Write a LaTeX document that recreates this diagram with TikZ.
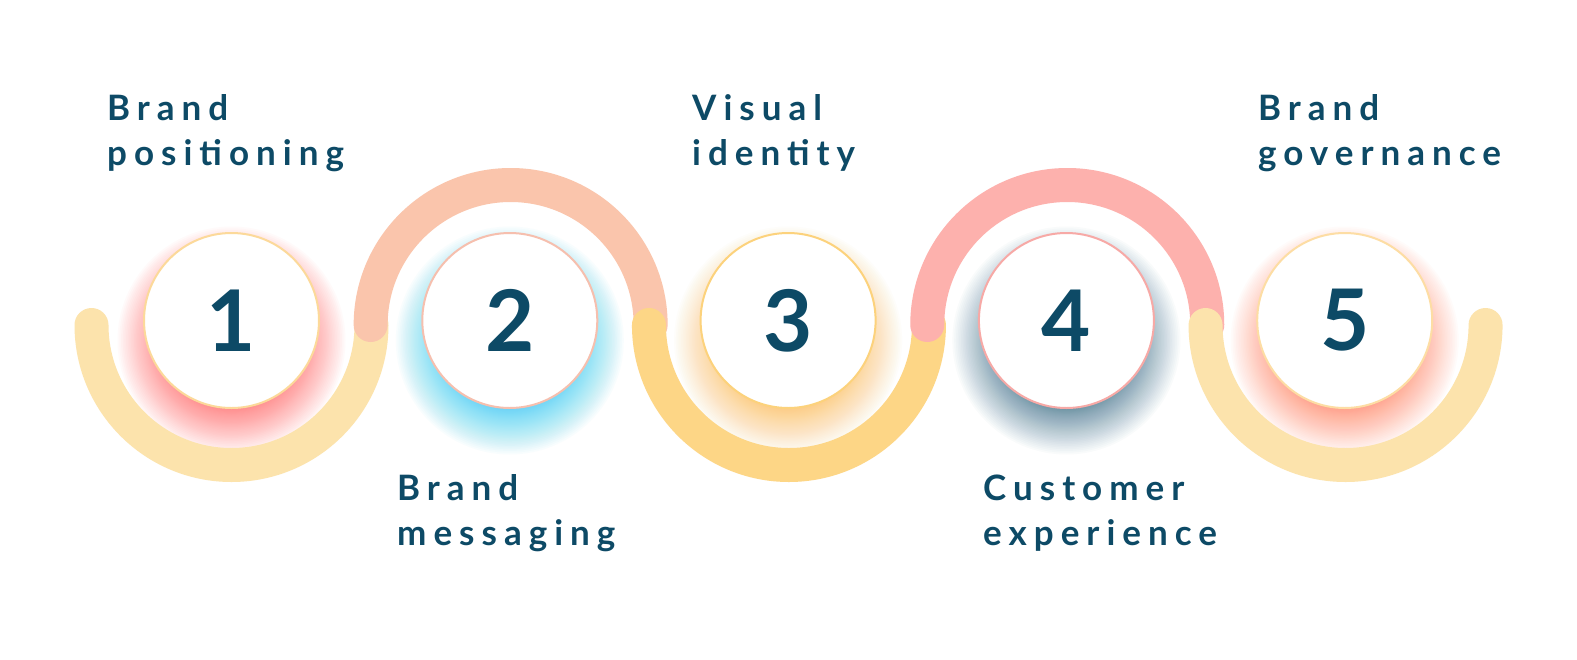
\documentclass[tikz,border=0pt]{standalone}
\usepackage{fontspec}
\setmainfont{Lato}
\newfontfamily\labelfont[LetterSpace=20]{Lato}
\definecolor{ink}{HTML}{0D4A66}
\definecolor{arcLight}{HTML}{FCE3AC}
\definecolor{arcPeach}{HTML}{FAC5AC}
\definecolor{arcYellow}{HTML}{FDD686}
\definecolor{arcPink}{HTML}{FDB1AD}
\definecolor{bordA}{HTML}{FCD99A}
\definecolor{bordB}{HTML}{F6BFAE}
\definecolor{bordC}{HTML}{FCD27C}
\definecolor{bordD}{HTML}{F7A9A6}
\definecolor{bordE}{HTML}{FDDDA4}
\definecolor{glowA}{HTML}{FF6E6E}
\definecolor{glowB}{HTML}{3FD4F6}
\definecolor{glowC}{HTML}{FCBB48}
\definecolor{glowD}{HTML}{245F7C}
\definecolor{glowE}{HTML}{FF8560}
\tikzset{
  arcline/.style={line width=34pt, line cap=round},
  numcircle/.style={circle, fill=white, line width=2pt, minimum size=175pt, inner sep=0pt,
    text=ink, font=\fontsize{85}{85}\selectfont\bfseries},
  steplabel/.style={anchor=north west, inner sep=0pt, align=left, text=ink,
    font=\labelfont\fontsize{35}{45}\selectfont\bfseries},
}
% soft glow: many translucent disks, denser towards the inside
\newcommand{\glowring}[3]{%
  \foreach \k in {0,...,59} {
    \pgfmathsetmacro\rr{60+54*(1-\k/60)^2}
    \fill[#2, fill opacity=#3] (#1) ++(0,20) circle[radius=\rr];
  }%
}
\begin{document}
\begin{tikzpicture}[x=1pt,y=-1pt]
\fill[white] (0,0) rectangle (1577,659);
\useasboundingbox (0,0) rectangle (1577,659);

\coordinate (c1) at (231.5,320.5);
\coordinate (c2) at (509.8,320.5);
\coordinate (c3) at (788.1,320.5);
\coordinate (c4) at (1066.4,320.5);
\coordinate (c5) at (1344.7,320.5);

% glows
\glowring{c1}{glowA}{0.03}
\glowring{c2}{glowB}{0.03}
\glowring{c3}{glowC}{0.025}
\glowring{c4}{glowD}{0.025}
\glowring{c5}{glowE}{0.027}

% arcs
\coordinate (a0) at (91.5,325);
\coordinate (a1) at (370.65,325);
\coordinate (a2) at (648.95,325);
\coordinate (a3) at (927.25,325);
\coordinate (a4) at (1205.55,325);
\draw[arcline, arcLight] (a0) arc[start angle=180, end angle=0, radius=140];
\draw[arcline, arcPeach] (a1) arc[start angle=180, end angle=360, radius=140];
\draw[arcline, arcYellow] (a2) arc[start angle=180, end angle=0, radius=140];
\draw[arcline, arcPink] (a3) arc[start angle=180, end angle=360, radius=140];
\draw[arcline, arcLight] (a4) arc[start angle=180, end angle=0, radius=140];

% circles
\node[numcircle, draw=bordA] (n1) at (c1) {1};
\node[numcircle, draw=bordB] (n2) at (c2) {2};
\node[numcircle, draw=bordC] (n3) at (c3) {3};
\node[numcircle, draw=bordD] (n4) at (c4) {4};
\node[numcircle, draw=bordE] (n5) at (c5) {5};

% labels
\node[steplabel] (l1) at (107,94) {Brand\\positioning};
\node[steplabel] (l2) at (397,474) {Brand\\messaging};
\node[steplabel] (l3) at (692,94) {Visual\\identity};
\node[steplabel] (l4) at (983,475) {Customer\\experience};
\node[steplabel] (l5) at (1258,94) {Brand\\governance};
\end{tikzpicture}
\end{document}
